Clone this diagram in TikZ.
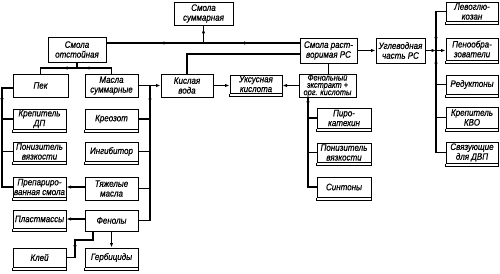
\documentclass[tikz,border=0pt]{standalone}
\usepackage{fontspec}
\setmainfont{Liberation Sans}[FakeStretch=0.86,FakeBold=0.6]
\usetikzlibrary{arrows.meta,decorations.markings}
\tikzset{
  box/.style={draw, line width=1pt, inner sep=0pt, align=center,
    font=\fontsize{9.3}{9.8}\selectfont\itshape},
  con/.style={line width=1.1pt},
  arr/.style={con, -{Latex[length=4.5pt,width=3.4pt]}},
  midarrow/.style={postaction={decorate}, decoration={markings,
    mark=at position #1 with {\arrow{Latex[length=4.5pt,width=3.4pt]}}}}
}
\begin{document}
\begin{tikzpicture}[x=1pt,y=-1pt]
\useasboundingbox (0,0) rectangle (500,273);
% intermediate boxes
\node[box, minimum width=59pt, minimum height=23pt] (sum) at (203.5,13.5) {Смола\\суммарная};
\node[box, minimum width=58pt, minimum height=25pt] (ots) at (77,49.5) {Смола\\отстойная};
\node[box, minimum width=57pt, minimum height=25pt] (rast) at (328.5,50.5) {Смола раст-\\воримая РС};
\node[box, minimum width=49pt, minimum height=25pt] (ugl) at (400.5,50.5) {Углеводная\\часть РС};
\node[box, minimum width=55pt, minimum height=23pt] (pek) at (40.5,85.5) {Пек};
\node[box, minimum width=53pt, minimum height=23pt] (masla) at (111.5,85.5) {Масла\\суммарные};
\node[box, minimum width=52pt, minimum height=23pt] (kisl) at (187,85.5) {Кислая\\вода};
\node[box, minimum width=57pt, minimum height=23pt, font=\fontsize{8.6}{7.3}\selectfont\itshape] (fen) at (327.5,85.5) {Фенольный\\экстракт +\\орг. кислоты};
\node[box, minimum width=53pt, minimum height=23pt] (tyazh) at (111.5,188.5) {Тяжелые\\масла};
\node[box, minimum width=53pt, minimum height=21pt] (fenoly) at (111.5,220.5) {Фенолы};
% product boxes
\node[box, minimum width=52pt, minimum height=18pt] (uks) at (256,84) {Уксусная\\кислота};
\node[box, minimum width=53pt, minimum height=20pt] (krepDP) at (39.5,119) {Крепитель\\ДП};
\node[box, minimum width=53pt, minimum height=19pt] (poniz1) at (39.5,151.5) {Понизитель\\вязкости};
\node[box, minimum width=53pt, minimum height=20pt] (prep) at (39.5,187) {Препариро-\\ванная смола};
\node[box, minimum width=53pt, minimum height=18pt] (plast) at (39.5,219) {Пластмассы};
\node[box, minimum width=53pt, minimum height=19pt] (klei) at (39.5,257.5) {Клей};
\node[box, minimum width=53pt, minimum height=20pt] (kreoz) at (111.5,119) {Креозот};
\node[box, minimum width=53pt, minimum height=19pt] (ingib) at (111.5,151.5) {Ингибитор};
\node[box, minimum width=53pt, minimum height=19pt] (gerb) at (111.5,257.5) {Гербициды};
\node[box, minimum width=54pt, minimum height=20pt] (piro) at (344,118) {Пиро-\\катехин};
\node[box, minimum width=54pt, minimum height=19pt] (poniz2) at (344,152.5) {Понизитель\\вязкости};
\node[box, minimum width=54pt, minimum height=20pt] (sint) at (344,187) {Синтоны};
\node[box, minimum width=52pt, minimum height=19pt] (levo) at (472,11.5) {Левоглю-\\козан};
\node[box, minimum width=52pt, minimum height=22pt] (peno) at (472,49) {Пенообра-\\зователи};
\node[box, minimum width=52pt, minimum height=19pt] (red) at (472,84.5) {Редуктоны};
\node[box, minimum width=52pt, minimum height=21pt] (krepKVO) at (472,117.5) {Крепитель\\КВО};
\node[box, minimum width=52pt, minimum height=21pt] (svyaz) at (472,152.5) {Связующие\\для ДВП};
\foreach \n in {uks,krepDP,poniz1,prep,plast,klei,kreoz,ingib,gerb,piro,poniz2,sint,levo,peno,red,krepKVO,svyaz}
  \draw[line width=1pt] (\n.south west) -- ([yshift=-2.6pt]\n.south west) -- ([yshift=-2.6pt]\n.south east) -- (\n.south east);
% top distribution
\coordinate (j1) at (203.5,43);
\draw[con, midarrow=0.6] (sum.south) -- (j1);
\draw[con, midarrow=0.45] (j1) -- (j1 -| ots.east);
\draw[con, midarrow=0.47] (j1) -- (j1 -| rast.west);
% Смола отстойная split
\coordinate (j2) at (77,68);
\draw[con] (ots.south) -- (j2);
\draw[con, midarrow=0.33] (j2) -| (pek.north);
\draw[con, midarrow=0.4] (j2) -| (masla.north);
% Пек column
\coordinate (colL) at (2,88);
\draw[con, midarrow=0.21] ([yshift=-2.5pt]pek.west) -- (colL) -- (colL |- prep.west) -- (prep.west);
\draw[con] (colL |- krepDP.west) -- (krepDP.west);
\draw[con] (colL |- poniz1.west) -- (poniz1.west);
% Масла суммарные column
\coordinate (m1) at (150,85.5);
\draw[arr] (masla.east) -- (kisl.west);
\draw[con, midarrow=0.12] (m1) -- (m1 |- fenoly.east) -- (fenoly.east);
\draw[con] (m1 |- kreoz.east) -- (kreoz.east);
\draw[con] (m1 |- ingib.east) -- (ingib.east);
\draw[con] (m1 |- tyazh.east) -- (tyazh.east);
\draw[arr] (tyazh.west |- prep.east) -- (prep.east);
\draw[arr] (fenoly.west |- plast.east) -- (plast.east);
% Фенолы outputs
\coordinate (k1) at (75,240);
\draw[con, midarrow=0.69] ([xshift=-18.5pt]fenoly.south) |- (k1) -- (k1 |- klei.east) -- (klei.east);
\draw[arr] (fenoly.south) -- (gerb.north);
% Кислая вода
\draw[arr] (kisl.east) -- (kisl.east -| uks.west);
\draw[con] (kisl.north) |- ([yshift=-3.5pt]rast.west);
% Смола растворимая
\draw[con] (rast.south) -- (rast.south |- fen.north);
\draw[arr] (fen.west) -- (fen.west -| uks.east);
\coordinate (f0) at (308,97);
\draw[con, midarrow=0.09] (f0) -- (f0 |- sint.west) -- (sint.west);
\draw[con] (f0 |- piro.west) -- (piro.west);
\draw[con] (f0 |- poniz2.west) -- (poniz2.west);
\draw[arr] (rast.east) -- (ugl.west);
% Углеводная часть
\coordinate (r1) at (436,50.5);
\draw[arr] (ugl.east) -- (r1);
\draw[arr] (r1) -- (r1 -| peno.west);
\draw[con, midarrow=0.35] (r1) |- (levo.west);
\draw[con, midarrow=0.15] (r1) |- (svyaz.west);
\draw[con] (r1 |- red.west) -- (red.west);
\draw[con] (r1 |- krepKVO.west) -- (krepKVO.west);
\end{tikzpicture}
\end{document}
